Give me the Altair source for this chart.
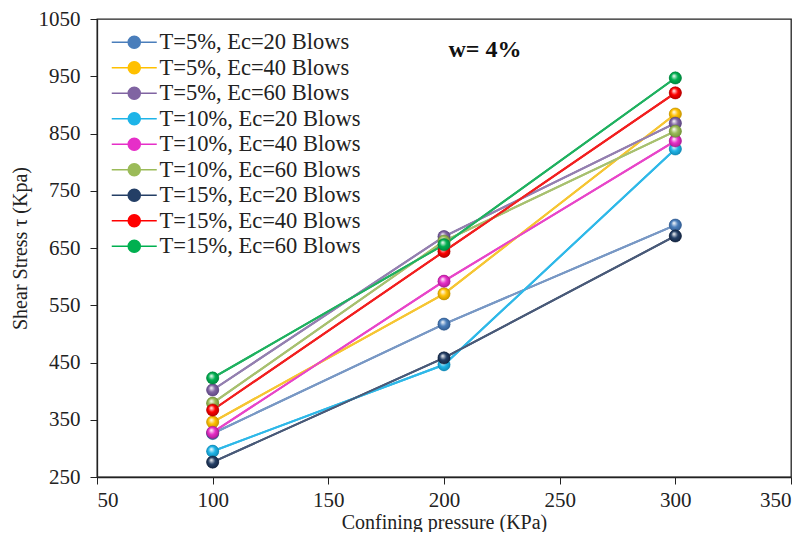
import altair as alt
import pandas as pd

# ---- data ----
pressure = [100, 200, 300]
series_names = [
    "T=5%, Ec=20 Blows",
    "T=5%, Ec=40 Blows",
    "T=5%, Ec=60 Blows",
    "T=10%, Ec=20 Blows",
    "T=10%, Ec=40 Blows",
    "T=10%, Ec=60 Blows",
    "T=15%, Ec=20 Blows",
    "T=15%, Ec=40 Blows",
    "T=15%, Ec=60 Blows",
]
t5_ec20 = [326, 517, 690]
t5_ec40 = [346, 570, 884]
t5_ec60 = [402, 670, 868]
t10_ec20 = [295, 446, 823]
t10_ec40 = [328, 592, 837]
t10_ec60 = [379, 662, 854]
t15_ec20 = [276, 458, 671]
t15_ec40 = [367, 644, 921]
t15_ec60 = [423, 656, 947]
all_series = [t5_ec20, t5_ec40, t5_ec60, t10_ec20, t10_ec40, t10_ec60,
              t15_ec20, t15_ec40, t15_ec60]

colors = ["#4A7EBB", "#FFC000", "#8064A2", "#1EB4E8", "#E62FC8",
          "#9BBB59", "#243F66", "#FF0000", "#00B050"]
line_colors = ["#7A98C4", "#F5C535", "#9480B0", "#2FB8E8", "#E846C8",
               "#A8C070", "#4A5A78", "#F02020", "#20B060"]
dark_colors = ["#2C5487", "#B88A00", "#55407A", "#0F7FA8", "#A01888",
               "#6A8A30", "#101E36", "#A00000", "#007A38"]

rows = []
for name, vals in zip(series_names, all_series):
    for p, v in zip(pressure, vals):
        rows.append({"series": name, "pressure": p, "stress": v})
df = pd.DataFrame(rows)

xscale = alt.Scale(domain=[50, 350], nice=False)
yscale = alt.Scale(domain=[250, 1050], nice=False)

x_enc = alt.X("pressure:Q", scale=xscale,
              axis=alt.Axis(title="Confining pressure (KPa)", format="d",
                            values=[50, 100, 150, 200, 250, 300, 350]))
y_enc = alt.Y("stress:Q", scale=yscale,
              axis=alt.Axis(title="Shear Stress \u03c4 (Kpa)", format="d",
                            values=[250, 350, 450, 550, 650, 750, 850, 950, 1050]))

# wide line-with-ball legend glyph (scaled by sqrt(size)/2)
legend_path = ("M-3.75,0L-1,0M1,0L3.75,0"
               "M1,0A1,1 0 1 1 -1,0A1,1 0 1 1 1,0Z")

color_enc = alt.Color(
    "series:N",
    scale=alt.Scale(domain=series_names, range=colors),
    sort=series_names,
    legend=alt.Legend(
        title=None, orient="none", legendX=26, legendY=12,
        symbolType=legend_path, symbolSize=144, symbolStrokeWidth=1.6,
        labelFont="Liberation Serif", labelFontSize=22.5, labelColor="#222222",
        rowPadding=2.5, labelOffset=14, labelLimit=400,
        symbolOpacity=1,
    ),
)

layers = []
# encoded line layer (drives legend stroke)
layers.append(
    alt.Chart(df).mark_line(strokeWidth=2).encode(x=x_enc, y=y_enc, color=color_enc)
)
# tinted lines on top, one per series
for name, lc in zip(series_names, line_colors):
    layers.append(
        alt.Chart(df[df.series == name]).mark_line(strokeWidth=2, color=lc)
        .encode(x=x_enc, y=y_enc)
    )
# solid points (drive legend fill)
layers.append(
    alt.Chart(df).mark_point(filled=True, size=150, opacity=1)
    .encode(x=x_enc, y=y_enc, color=color_enc)
)
# sphere shading on top
for name, c, d in zip(series_names, colors, dark_colors):
    grad = alt.Gradient(
        gradient="radial",
        x1=0.38, y1=0.32, r1=0.0,
        x2=0.5, y2=0.5, r2=0.62,
        stops=[alt.GradientStop(color="#FFFFFF", offset=0),
               alt.GradientStop(color=c, offset=0.45),
               alt.GradientStop(color=d, offset=1)],
    )
    layers.append(
        alt.Chart(df[df.series == name]).mark_point(
            filled=True, size=150, opacity=1, fill=grad, stroke=d, strokeWidth=0.5)
        .encode(x=x_enc, y=y_enc)
    )

label_df = pd.DataFrame({"txt": ["w= 4%"]})
label = alt.Chart(label_df).mark_text(
    font="Liberation Serif", fontSize=24, fontWeight="bold", color="#111111"
).encode(text="txt:N", x=alt.value(388), y=alt.value(31))

chart = alt.layer(*layers, label).properties(
    width=694, height=458,
    padding={"left": 2, "top": 0, "right": 0, "bottom": 0},
).configure_view(
    stroke="#222222", strokeWidth=1.3
).configure_axis(
    grid=False, domainColor="#222222", tickColor="#222222", domainWidth=1.3,
    tickSize=7, labelFont="Liberation Serif", labelFontSize=21,
    labelColor="#222222", titleFont="Liberation Serif", titleFontSize=20,
    titleFontWeight="normal", titleColor="#222222",
).configure_axisY(
    labelPadding=10, titlePadding=8
).configure_axisX(
    labelPadding=5, titlePadding=2
)

chart.save("out.html", embed_options={"renderer": "svg", "actions": False})
